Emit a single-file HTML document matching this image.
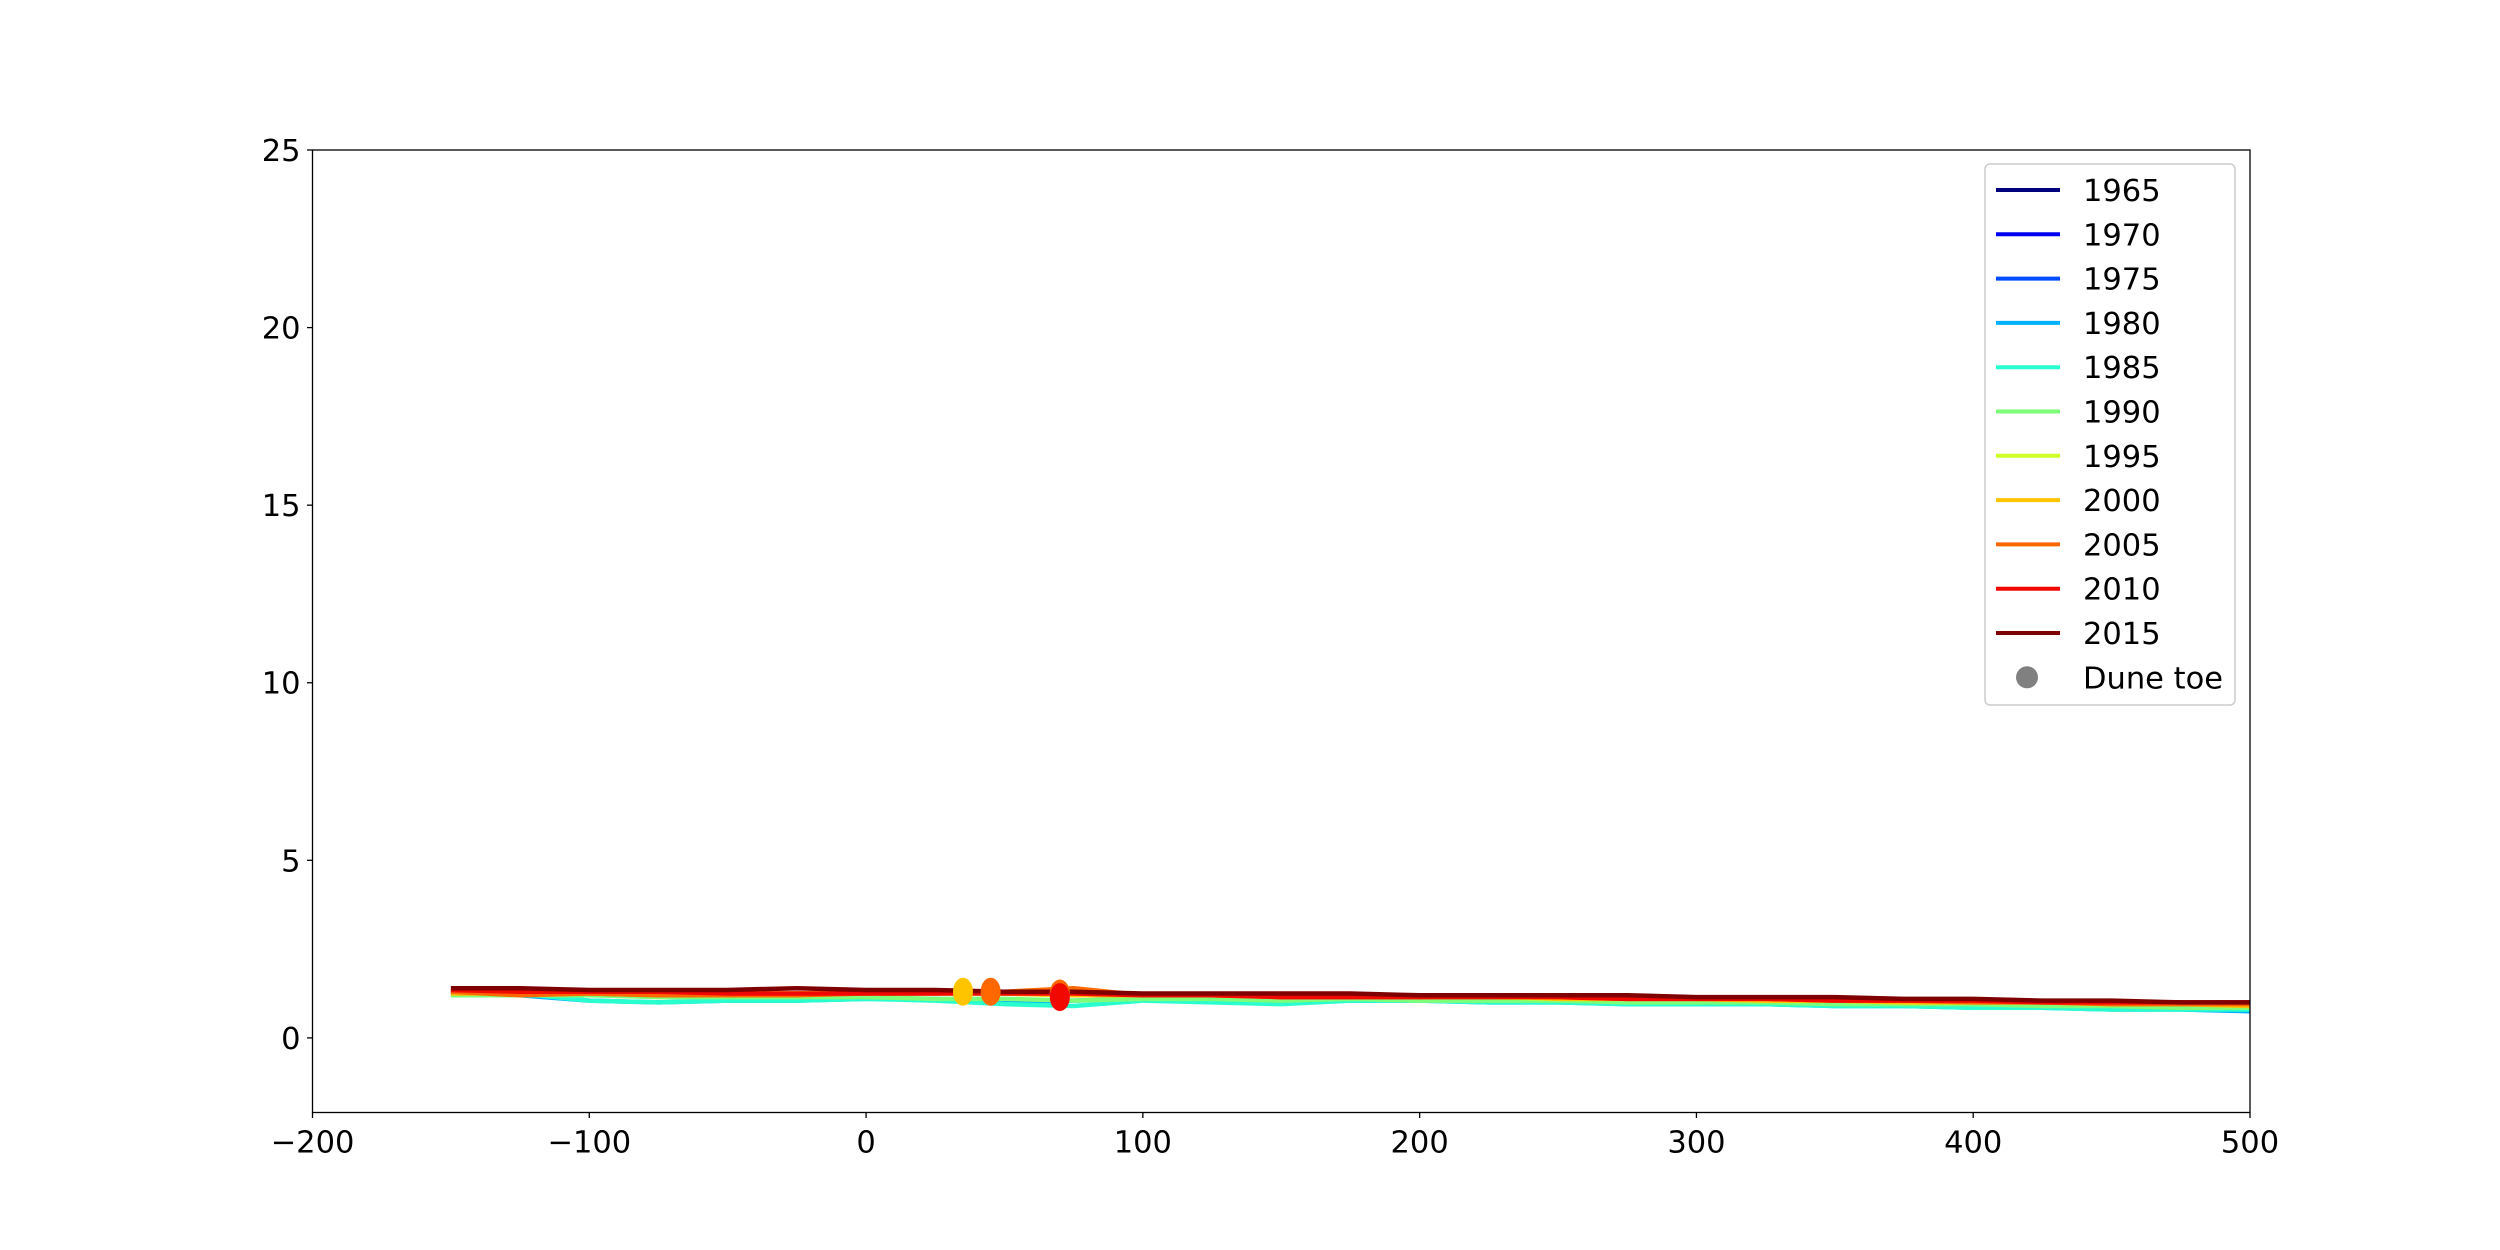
<!DOCTYPE html>
<html><head><meta charset="utf-8"><style>
body{margin:0;background:#fff}
svg{display:block;font-family:"DejaVu Sans","Liberation Sans",sans-serif}
</style></head><body>
<svg id="chart" width="2500" height="1250" xmlns="http://www.w3.org/2000/svg">
<rect width="2500" height="1250" fill="#fff"/>
<g id="plot"></g>
<g id="axes"></g>
<g id="legend"></g>
</svg>
<script>
const xs=[-150,-125,-100,-75,-50,-25,0,25,50,75,100,125,150,175,200,225,250,275,300,325,350,375,400,425,450,475,500];
const years=["1965","1970","1975","1980","1985","1990","1995","2000","2005","2010","2015"];
const colors=["#00007f","#0000f1","#004cff","#00b0ff","#29ffce","#7dff7a","#ceff29","#ffc400","#ff6800","#f10800","#7f0000"];
const y1980=[1.25,1.2,1.05,1.0,1.05,1.05,1.1,1.1,1.0,1.05,1.1,1.05,1.0,1.05,1.05,1.0,1.0,0.95,0.95,0.95,0.9,0.9,0.85,0.85,0.8,0.8,0.75];
const y1985=[1.3,1.25,1.05,1.0,1.05,1.05,1.1,1.05,0.95,0.9,1.05,1.0,0.95,1.05,1.05,1.0,1.0,0.95,0.95,0.95,0.9,0.9,0.85,0.85,0.8,0.8,0.8];
const y1990=[1.2,1.2,1.2,1.15,1.15,1.15,1.15,1.1,1.1,1.05,1.1,1.1,1.05,1.1,1.05,1.05,1.05,1.0,1.0,1.0,0.95,0.95,0.95,0.9,0.9,0.85,0.85];
const y1995=[1.3,1.3,1.3,1.3,1.25,1.25,1.3,1.25,1.25,1.2,1.2,1.2,1.15,1.15,1.15,1.15,1.1,1.1,1.1,1.05,1.05,1.0,1.0,1.0,0.95,0.95,0.95];
const y2000=[1.25,1.25,1.25,1.25,1.25,1.25,1.25,1.3,1.25,1.2,1.2,1.2,1.15,1.15,1.15,1.2,1.1,1.1,1.1,1.05,1.05,1.0,1.0,1.0,0.95,0.95,0.9];
const y2005=[1.3,1.2,1.25,1.2,1.2,1.2,1.25,1.25,1.3,1.4,1.2,1.2,1.15,1.15,1.15,1.2,1.15,1.1,1.1,1.1,1.05,1.05,1.0,1.0,0.95,0.95,0.95];
const y2010=[1.35,1.3,1.3,1.3,1.25,1.25,1.25,1.25,1.25,1.25,1.2,1.2,1.15,1.15,1.15,1.15,1.15,1.1,1.1,1.1,1.05,1.05,1.05,1.0,1.0,1.0,1.0];
const y2015=[1.4,1.4,1.35,1.35,1.35,1.4,1.35,1.35,1.3,1.3,1.25,1.25,1.25,1.25,1.2,1.2,1.2,1.2,1.15,1.15,1.15,1.1,1.1,1.05,1.05,1.0,1.0];
const seriesY=[null,null,null,y1980,y1985,y1990,y1995,y2000,y2005,y2010,y2015];
const toeX=[35,45,70,70];
const toeY=[1.3,1.3,1.25,1.15];
const toeIdx=[7,8,8,9];
const xTicks=[-200,-100,0,100,200,300,400,500];
const yTicks=[0,5,10,15,20,25];
const L=312.5,R=2250,T=150,B=1112.5,X0=-200,X1=500,Y0=-2.1,Y1=25;
const sx=v=>L+(v-X0)/(X1-X0)*(R-L);
const sy=v=>B-(v-Y0)/(Y1-Y0)*(B-T);
const NS="http://www.w3.org/2000/svg";
const FS=30.5;
function mk(t,a,p){const e=document.createElementNS(NS,t);for(const k in a)e.setAttribute(k,a[k]);p.appendChild(e);return e;}
const plot=document.getElementById('plot'),axes=document.getElementById('axes'),leg=document.getElementById('legend');
seriesY.forEach((ys,i)=>{if(!ys)return;
 const p=mk('polyline',{points:xs.map((x,j)=>sx(x)+','+sy(ys[j])).join(' '),fill:'none',stroke:colors[i],'stroke-width':4.5,'stroke-linejoin':'round'},plot);
 
 
});
toeX.forEach((x,i)=>{
 const c=mk('ellipse',{cx:sx(x),cy:sy(toeY[i]),rx:10,ry:14,fill:colors[toeIdx[i]]},plot);
 
 
});
const fr=mk('rect',{x:L,y:T,width:R-L,height:B-T,fill:'none',stroke:'#000','stroke-width':1.3},axes);


xTicks.forEach(v=>{const x=sx(v);mk('line',{x1:x,x2:x,y1:B,y2:B+5.5,stroke:'#000','stroke-width':1.3},axes);
 const t=mk('text',{x:x,y:B+40,'font-size':FS,'text-anchor':'middle'},axes);t.textContent=v<0?'\u2212'+(-v):v;
 
 });
yTicks.forEach(v=>{const y=sy(v);mk('line',{x1:L-5.5,x2:L,y1:y,y2:y,stroke:'#000','stroke-width':1.3},axes);
 const t=mk('text',{x:L-12,y:y+11,'font-size':FS,'text-anchor':'end'},axes);t.textContent=v;
 
 });
const lb=mk('rect',{x:1985,y:164,width:250,height:541,rx:5,fill:'#fff',stroke:'#ccc','stroke-width':1.5},leg);


years.forEach((yr,i)=>{const y=190+i*44.3;
 const g=mk('g',{},leg);
 
 
 mk('line',{x1:1996,x2:2060,y1:y,y2:y,stroke:colors[i],'stroke-width':4},g);
 const t=mk('text',{x:2083,y:y+11,'font-size':FS},g);t.textContent=yr;});
const gy=190+11*44.3;
const dg=mk('g',{},leg);


mk('circle',{cx:2027,cy:gy,r:11,fill:'#808080'},dg);
const dt=mk('text',{x:2083,y:gy+11,'font-size':FS},dg);dt.textContent='Dune toe';
</script>
</body></html>
